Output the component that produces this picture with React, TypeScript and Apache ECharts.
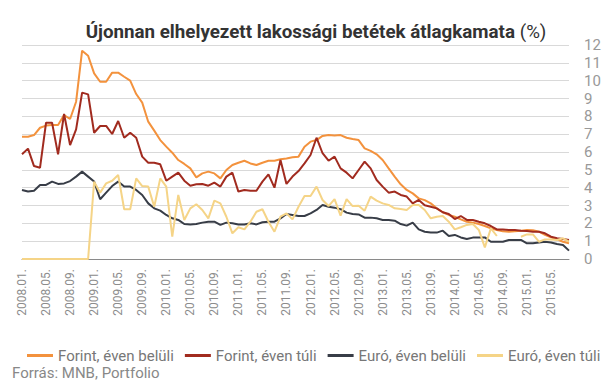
import { useEffect, useRef } from "react";
import * as echarts from "echarts";

const startYear = 2008;
const endYear = 2015;
const endMonth = 8;
const months: string[] = [];
for (let y = startYear; y <= endYear; y++) {
  for (let m = 1; m <= 12; m++) {
    if (y === endYear && m > endMonth) break;
    months.push(`${y}.${String(m).padStart(2, "0")}.`);
  }
}

const seriesNames = ["Forint, éven belüli", "Forint, éven túli", "Euró, éven belüli", "Euró, éven túli"];

const forintBelul = [
  6.86, 6.86, 6.95, 7.36, 7.48, 7.51, 7.51, 8.07, 7.85, 8.82,
  11.68, 11.4, 10.41, 9.94, 9.94, 10.45, 10.45, 10.22, 10.0, 9.25,
  8.77, 7.7, 7.2, 6.67, 6.3, 5.96, 5.55, 5.33, 5.08, 4.58,
  4.8, 4.9, 4.8, 4.52, 4.99, 5.27, 5.4, 5.51, 5.36, 5.27,
  5.4, 5.51, 5.51, 5.59, 5.64, 5.7, 5.74, 6.3, 6.58, 6.67,
  6.9, 6.95, 6.92, 6.95, 6.8, 6.73, 6.67, 6.2, 6.06, 5.87,
  5.55, 5.08, 4.62, 4.19, 3.87, 3.68, 3.4, 3.3, 3.12, 2.84,
  2.62, 2.47, 2.37, 2.22, 2.09, 2.04, 1.96, 1.85, 1.72, 1.63,
  1.55, 1.53, 1.55, 1.59, 1.63, 1.61, 1.53, 1.35, 1.21, 1.1,
  0.97, 0.88,
];

const forintTuli = [
  5.87, 6.19, 5.21, 5.12, 7.64, 7.64, 5.87, 8.13, 6.39, 7.27,
  9.33, 9.23, 7.08, 7.46, 7.46, 7.01, 7.74, 6.8, 7.08, 6.8,
  5.74, 5.4, 5.4, 5.31, 4.39, 4.62, 4.84, 4.39, 4.11, 4.19,
  4.21, 4.11, 4.28, 4.06, 4.62, 4.84, 3.78, 3.87, 3.83, 3.83,
  4.34, 4.75, 4.0, 5.55, 4.21, 4.62, 4.93, 5.36, 5.83, 6.8,
  5.93, 5.51, 5.74, 5.08, 4.84, 4.52, 4.99, 5.46, 5.08, 4.43,
  4.06, 3.72, 3.78, 3.59, 3.5, 3.12, 3.31, 3.01, 2.93, 2.84,
  2.62, 2.52, 2.24, 2.41, 2.19, 2.19, 2.09, 2.0, 1.85, 1.66,
  1.66, 1.63, 1.63, 1.59, 1.57, 1.53, 1.53, 1.44, 1.25, 1.16,
  1.12, 1.07,
];

const euroBelul = [
  3.87, 3.78, 3.83, 4.15, 4.15, 4.34, 4.21, 4.24, 4.37, 4.62,
  4.9, 4.62, 4.34, 3.35, 3.72, 4.09, 4.34, 4.06, 4.06, 3.87,
  3.59, 3.12, 2.84, 2.71, 2.47, 2.28, 2.19, 1.96, 1.94, 1.96,
  2.04, 2.09, 2.09, 1.91, 2.04, 2.0, 1.94, 1.94, 2.0, 1.94,
  2.06, 2.09, 2.09, 2.28, 2.52, 2.47, 2.41, 2.41, 2.56, 2.75,
  3.03, 2.93, 2.88, 2.79, 2.6, 2.52, 2.5, 2.32, 2.32, 2.28,
  2.19, 2.19, 2.15, 1.96, 1.87, 2.04, 1.66, 1.53, 1.48, 1.48,
  1.59, 1.29, 1.35, 1.21, 1.12, 1.2, 1.2, 1.21, 0.97, 0.97,
  0.97, 1.07, 1.07, 1.07, 0.88, 0.88, 0.93, 0.97, 0.93, 0.84,
  0.79, 0.47,
];

const euroTuli: (number | null)[] = [
  0, 0, 0, 0, 0, 0, 0, 0, 0, 0, 0, 0,
  4.34, 3.72, 4.24, 4.39, 4.71, 2.79, 2.79, 4.52, 4.09, 4.06,
  2.93, 4.52, 4.06, 1.25, 3.59, 2.19, 2.84, 3.07, 2.75, 2.28,
  3.27, 3.12, 2.37, 1.44, 1.78, 1.66, 2.09, 2.65, 2.79, 2.09,
  1.53, 2.37, 2.56, 2.22, 2.93, 3.53, 3.53, 4.06, 3.31, 2.97,
  3.36, 2.43, 3.36, 2.97, 2.99, 2.71, 3.5, 3.27, 3.12, 3.03,
  2.84, 2.8, 2.75, 3.03, 3.03, 2.75, 2.28, 2.37, 2.41, 2.09,
  1.66, 1.78, 1.91, 1.96, 1.63, 0.65, 1.72, 1.29, null, null,
  null, 1.25, 1.38, 1.38, 0.97, 1.1, 1.1, 1.07, 1.16, 0.97,
];

const colors = ["#F3923D", "#A12B1F", "#383D47", "#F5D487"];
const titleBold = "Újonnan elhelyezett lakossági betétek átlagkamata";
const titleUnit = "(%)";
const sourceText = "Forrás: MNB, Portfolio";

export default function App() {
  const ref = useRef<HTMLDivElement>(null);
  useEffect(() => {
    if (!ref.current) return;
    const chart = echarts.init(ref.current, undefined, { renderer: "svg" });

    const canvas = document.createElement("canvas");
    const ctx = canvas.getContext("2d")!;
    ctx.font = "bold 18px Roboto";
    const wb = ctx.measureText(titleBold + " ").width;
    ctx.font = "normal 18px Roboto";
    const wn = ctx.measureText(titleUnit).width;
    const titleScale = 461 / (wb + wn);

    const data = [forintBelul, forintTuli, euroBelul, euroTuli];

    chart.setOption({
      animation: false,
      backgroundColor: "#ffffff",
      color: colors,
      grid: { left: 22, right: 38, top: 45, bottom: 123 },
      xAxis: {
        type: "category",
        data: months,
        boundaryGap: false,
        axisLine: { lineStyle: { color: "#8a8a8a", width: 1 } },
        axisTick: { show: false },
        axisLabel: {
          interval: 3,
          rotate: 90,
          color: "#8c8c8c",
          fontSize: 12,
          fontFamily: "Roboto",
          margin: 10,
        },
        splitLine: { show: false },
      },
      yAxis: {
        type: "value",
        position: "right",
        min: 0,
        max: 12,
        interval: 1,
        axisLine: { show: false },
        axisTick: { show: false },
        axisLabel: { color: "#999999", fontSize: 15, fontFamily: "Roboto", margin: 15 },
        splitLine: { lineStyle: { color: "#d9d9d9", width: 1 } },
      },
      legend: {
        data: seriesNames,
        left: 22,
        top: 343,
        icon: "rect",
        itemWidth: 26,
        itemHeight: 3,
        itemGap: 11,
        textStyle: { color: "#777777", fontSize: 15, fontFamily: "Roboto" },
      },
      graphic: [
        {
          type: "text",
          x: 316,
          y: 32,
          scaleX: titleScale,
          style: {
            text: `{b|${titleBold} }{n|${titleUnit}}`,
            align: "center",
            verticalAlign: "middle",
            rich: {
              b: { fontSize: 18, fontWeight: "bold", fontFamily: "Roboto", fill: "#333333" },
              n: { fontSize: 18, fontWeight: "normal", fontFamily: "Roboto", fill: "#333333" },
            },
          },
        },
        {
          type: "text",
          x: 12,
          y: 373,
          style: {
            text: sourceText,
            fontSize: 15,
            fontFamily: "Roboto",
            fill: "#888888",
            verticalAlign: "middle",
          },
        },
      ],
      series: seriesNames.map((name, i) => ({
        name,
        type: "line",
        data: data[i],
        showSymbol: false,
        symbol: "none",
        connectNulls: false,
        lineStyle: { width: 2, color: colors[i] },
        itemStyle: { color: colors[i] },
      })),
    });
    return () => chart.dispose();
  }, []);
  return (
    <div
      ref={ref}
      style={{ position: "fixed", left: 0, top: 0, width: 607, height: 382 }}
    />
  );
}
